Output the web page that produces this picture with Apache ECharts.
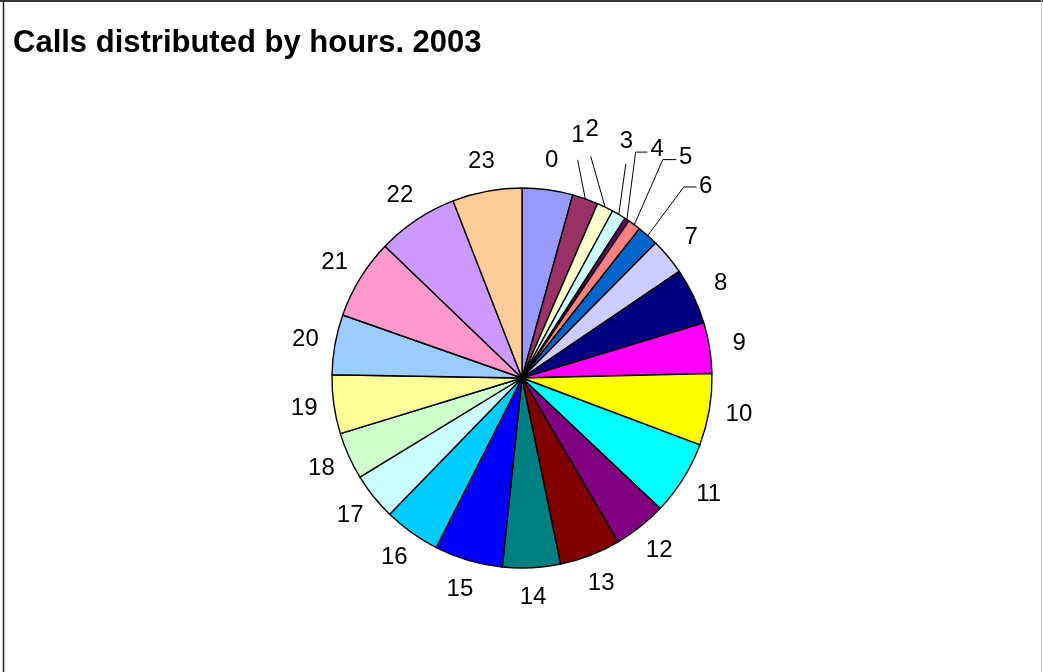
<!DOCTYPE html>
<html>
<head>
<meta charset="utf-8">
<script src="https://cdn.jsdelivr.net/npm/echarts@6/dist/echarts.min.js"></script>
<style>
html,body{margin:0;padding:0;background:#fff;}
#chart{width:1043px;height:672px;}
</style>
</head>
<body>
<div id="chart"></div>
<script>
const titleText = 'Calls distributed by hours. 2003';
const hours = ['0','1','2','3','4','5','6','7','8','9','10','11','12','13','14','15','16','17','18','19','20','21','22','23'];
const shares = [4.3, 2.2, 1.4, 1.2, 0.4, 1.1, 1.8, 3.1, 4.8, 4.3, 6.1, 6.3, 4.5, 5.2, 4.9, 5.8, 4.8, 4.0, 4.0, 5.0, 5.1, 6.8, 6.9, 5.9];
const colors = ['#9999FF','#993366','#FFFFCC','#CCFFFF','#660066','#FF8080','#0066CC','#CCCCFF','#000080','#FF00FF','#FFFF00','#00FFFF','#800080','#800000','#008080','#0000FF','#00CCFF','#CCFFFF','#CCFFCC','#FFFF99','#99CCFF','#FF99CC','#CC99FF','#FFCC99'];
// hours whose labels use leader lines
const leaderHours = ['1','2','3','4','5','6'];
// leader geometry offsets (relative to the slice edge point): bend, end, label centre
const leaderOffsets = {
  '1': [[-7.7,-39],[-7.7,-39],[-7.4,-63.4]],
  '2': [[-14.4,-50.7],[-14.4,-50.7],[-12.9,-77.4]],
  '3': [[7,-50.6],[7,-50.6],[7.5,-73.1]],
  '4': [[8.7,-67.5],[20.4,-67.5],[30.2,-69.8]],
  '5': [[28.6,-65.1],[42,-65.1],[51.3,-67.1]],
  '6': [[36,-48.6],[48.7,-48.6],[58,-49.4]]
};

const font = '"Liberation Sans", Arial, sans-serif';
const chart = echarts.init(document.getElementById('chart'), null, {renderer:'canvas'});

const mainData = hours.map((h,i)=>{
  const lead = leaderHours.includes(h);
  return {
    name: h, value: shares[i],
    itemStyle: {color: colors[i]},
    label: {show: lead},
    labelLine: {show: lead}
  };
});
const ringData = hours.map((h,i)=>({
  name: h, value: shares[i],
  label: {show: !leaderHours.includes(h)}
}));

chart.setOption({
  animation: false,
  backgroundColor: '#fff',
  title: {
    text: titleText, left: 8, top: 23,
    textStyle: {fontFamily: font, fontSize: 31, fontWeight: 'bold', color: '#000'}
  },
  graphic: [
    {type:'line', shape:{x1:0,y1:1,x2:1043,y2:1}, style:{stroke:'#333', lineWidth:2}, silent:true},
    {type:'line', shape:{x1:3.5,y1:0,x2:3.5,y2:672}, style:{stroke:'#222', lineWidth:1.5}, silent:true},
    {type:'line', shape:{x1:1041.5,y1:0,x2:1041.5,y2:672}, style:{stroke:'#c8c8c8', lineWidth:1}, silent:true}
  ],
  series: [
    {
      type: 'pie',
      center: [522, 378],
      radius: 190,
      startAngle: 90,
      clockwise: true,
      avoidLabelOverlap: false,
      silent: true,
      itemStyle: {borderColor: '#000', borderWidth: 1.4},
      label: {position: 'outside', color: '#000', fontFamily: font, fontSize: 24, formatter: '{b}'},
      labelLine: {length: 20, length2: 10, lineStyle: {color: '#000', width: 1}},
      labelLayout: function (p) {
        const name = hours[p.dataIndex];
        const off = leaderOffsets[name];
        if (!off || !p.labelLinePoints) return {};
        const e = p.labelLinePoints[0];
        return {
          x: e[0] + off[2][0], y: e[1] + off[2][1],
          align: 'center', verticalAlign: 'middle',
          labelLinePoints: [[e[0], e[1]], [e[0]+off[0][0], e[1]+off[0][1]], [e[0]+off[1][0], e[1]+off[1][1]]]
        };
      },
      emphasis: {disabled: true},
      data: mainData
    },
    {
      type: 'pie',
      center: [522, 378],
      radius: [190, 244],
      startAngle: 90,
      clockwise: true,
      silent: true,
      itemStyle: {color: 'rgba(0,0,0,0)', borderWidth: 0},
      label: {position: 'inside', color: '#000', fontFamily: font, fontSize: 24, formatter: '{b}'},
      labelLine: {show: false},
      emphasis: {disabled: true},
      data: ringData
    }
  ]
});
</script>
</body>
</html>
